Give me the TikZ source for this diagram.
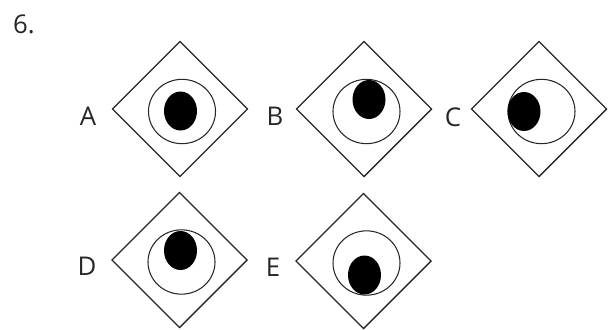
\documentclass[tikz,border=0pt]{standalone}
\usepackage{fontspec}
\setmainfont{Open Sans}
\usepackage{tikz}
\usetikzlibrary{shapes.geometric,positioning}

\begin{document}
\begin{tikzpicture}[
x=0.3mm, y=-0.3mm,
rhomb/.style={draw, diamond, aspect=1, inner sep=0pt, outer sep=0pt, minimum width=40.5mm, minimum height=40.5mm, line width=1.2pt, draw=black!85},
ring/.style={draw, ellipse, inner sep=0pt, minimum width=20.1mm, minimum height=19.3mm, line width=0.9pt, draw=black!85},
dot/.style={fill=black, ellipse, inner sep=0pt, minimum width=9.9mm, minimum height=11.7mm},
lbl/.style={font=\fontsize{22}{26}\selectfont, text=black!85, inner sep=0pt}
]
\useasboundingbox (0,0) rectangle (611,329);

\node[lbl] (num) at (24,24) {6.};

% top row
\node[rhomb] (dA) at (180,109) {};
\node[ring] (cA) at (182,111.5) {};
\node[dot] (pA) at (180.5,111) {};
\node[lbl] (lA) at (88,116) {A};

\node[rhomb] (dB) at (364,109) {};
\node[ring] (cB) at (366.5,111.5) {};
\node[dot] (pB) at (369,99.5) {};
\node[lbl] (lB) at (275,116) {B};

\node[rhomb] (dC) at (539,109) {};
\node[ring] (cC) at (541.5,111.5) {};
\node[dot] (pC) at (524,111.5) {};
\node[lbl] (lC) at (453,117) {C};

% bottom row
\node[rhomb] (dD) at (179.5,260) {};
\node[ring] (cD) at (181.5,262) {};
\node[dot] (pD) at (180.5,250.5) {};
\node[lbl] (lD) at (87,266) {D};

\node[rhomb] (dE) at (363.5,261) {};
\node[ring] (cE) at (366.5,263) {};
\node[dot] (pE) at (364.5,275) {};
\node[lbl] (lE) at (273,267) {E};
\end{tikzpicture}
\end{document}
